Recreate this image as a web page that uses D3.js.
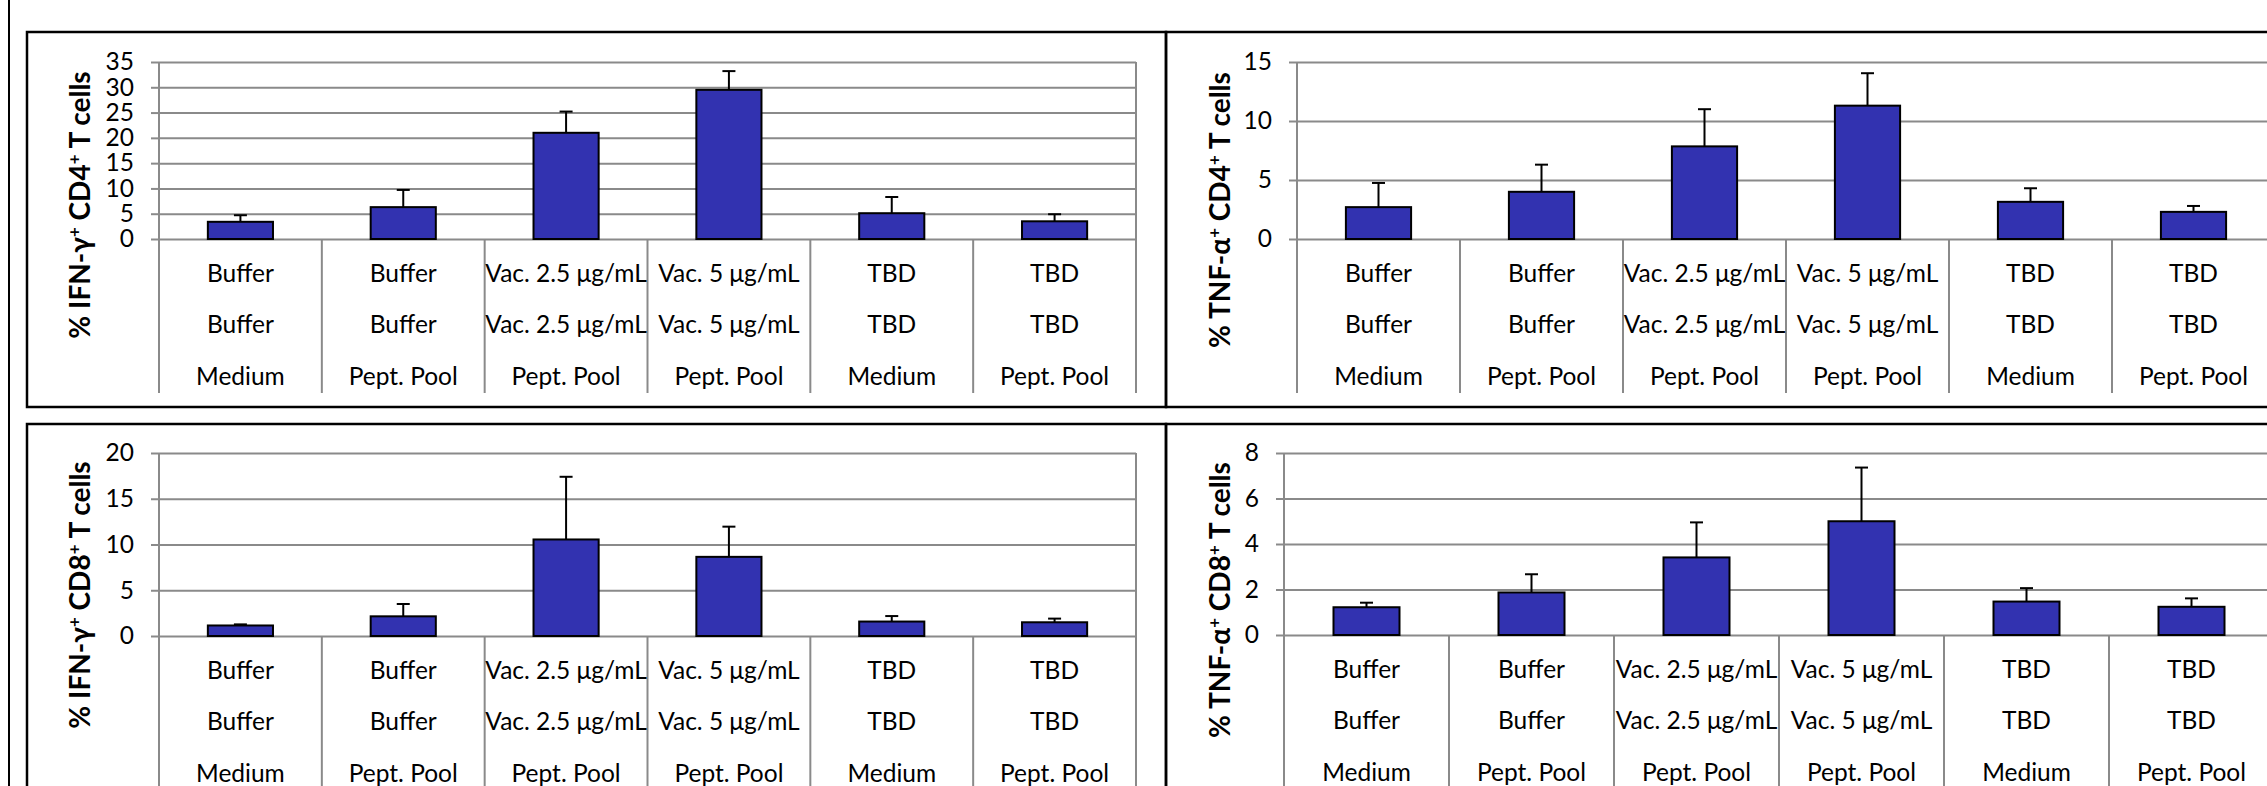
<!DOCTYPE html>
<html>
<head>
<meta charset="utf-8">
<script src="https://cdn.jsdelivr.net/npm/d3@7"></script>
<style>
body { margin: 0; background: #fff; }
text { font-family: Lato, "Open Sans", sans-serif; fill: #000; }
</style>
</head>
<body>
<script>
// category labels, three rows under each bar
var row1 = ["Buffer", "Buffer", "Vac. 2.5 μg/mL", "Vac. 5 μg/mL", "TBD", "TBD"];
var row2 = ["Buffer", "Buffer", "Vac. 2.5 μg/mL", "Vac. 5 μg/mL", "TBD", "TBD"];
var row3 = ["Medium", "Pept. Pool", "Pept. Pool", "Pept. Pool", "Medium", "Pept. Pool"];

// means and error (upper) per panel
var ifnCD4 = [3.4, 6.3, 21.0, 29.5, 5.1, 3.5];
var ifnCD4Err = [1.3, 3.4, 4.2, 3.7, 3.2, 1.4];
var tnfCD4 = [2.7, 4.0, 7.85, 11.3, 3.15, 2.3];
var tnfCD4Err = [2.05, 2.3, 3.15, 2.75, 1.15, 0.5];
var ifnCD8 = [1.15, 2.15, 10.55, 8.65, 1.58, 1.5];
var ifnCD8Err = [0.12, 1.35, 6.85, 3.3, 0.6, 0.4];
var tnfCD8 = [1.22, 1.87, 3.41, 5.0, 1.47, 1.24];
var tnfCD8Err = [0.2, 0.8, 1.54, 2.36, 0.59, 0.37];

// y axis tick values
var ticksIfnCD4 = [0, 5, 10, 15, 20, 25, 30, 35];
var ticksTnfCD4 = [0, 5, 10, 15];
var ticksIfnCD8 = [0, 5, 10, 15, 20];
var ticksTnfCD8 = [0, 2, 4, 6, 8];

var gridColor = "#8a8a8a";
var barColor = "#3232b0";

var svg = d3.select("body").append("svg")
  .attr("width", 2267).attr("height", 786);

// outer frame and panel boxes
svg.append("line").attr("x1", 9).attr("x2", 9).attr("y1", 0).attr("y2", 786)
  .attr("stroke", "#000").attr("stroke-width", 2);
[[27, 32, 1166, 407], [1166, 32, 2290, 407], [27, 424, 1166, 810], [1166, 424, 2290, 810]].forEach(function(b) {
  svg.append("rect").attr("x", b[0]).attr("y", b[1])
    .attr("width", b[2] - b[0]).attr("height", b[3] - b[1])
    .attr("fill", "none").attr("stroke", "#000").attr("stroke-width", 2.5);
});

function drawPanel(p) {
  var x = d3.scaleBand().domain(d3.range(p.values.length))
    .range([p.left, p.left + p.width]);
  var y = d3.scaleLinear().domain([0, d3.max(p.ticks)]).range([p.zero, p.top]);
  var g = svg.append("g");

  // gridlines
  g.append("g").attr("transform", "translate(" + p.left + ",0)")
    .call(d3.axisLeft(y).tickValues(p.ticks).tickSize(-p.width).tickFormat(""))
    .call(function(s) { s.select(".domain").remove(); })
    .selectAll("line").attr("stroke", gridColor).attr("stroke-width", 2);

  // tick marks and labels
  var ax = g.append("g").attr("transform", "translate(" + p.left + ",0)")
    .call(d3.axisLeft(y).tickValues(p.ticks).tickSize(8).tickPadding(17));
  ax.select(".domain").remove();
  ax.selectAll("line").attr("stroke", gridColor).attr("stroke-width", 2);
  ax.selectAll("text").attr("font-size", 24.5).attr("font-family", "Lato").attr("fill", "#000");

  // axis line, right border, category separators
  var lblBottom = p.zero + 154;
  g.append("line").attr("x1", p.left).attr("x2", p.left)
    .attr("y1", p.top).attr("y2", lblBottom)
    .attr("stroke", gridColor).attr("stroke-width", 2);
  g.append("line").attr("x1", p.left + p.width).attr("x2", p.left + p.width)
    .attr("y1", p.top).attr("y2", lblBottom)
    .attr("stroke", gridColor).attr("stroke-width", 2);
  g.selectAll(".sep").data(d3.range(1, p.values.length)).enter().append("line")
    .attr("x1", function(i) { return x(i); }).attr("x2", function(i) { return x(i); })
    .attr("y1", p.zero).attr("y2", lblBottom)
    .attr("stroke", gridColor).attr("stroke-width", 2);

  var bw = x.bandwidth() * 0.4;

  // bars
  g.selectAll(".bar").data(p.values).enter().append("rect")
    .attr("x", function(d, i) { return x(i) + (x.bandwidth() - bw) / 2; })
    .attr("y", function(d) { return y(d); })
    .attr("width", bw)
    .attr("height", function(d) { return y(0) - y(d); })
    .attr("fill", barColor).attr("stroke", "#000").attr("stroke-width", 2);

  // error bars (upper only)
  var cx = function(i) { return x(i) + x.bandwidth() / 2; };
  g.selectAll(".err").data(p.values).enter().append("line")
    .attr("x1", function(d, i) { return cx(i); }).attr("x2", function(d, i) { return cx(i); })
    .attr("y1", function(d) { return y(d); })
    .attr("y2", function(d, i) { return y(d + p.errors[i]); })
    .attr("stroke", "#000").attr("stroke-width", 2);
  g.selectAll(".cap").data(p.values).enter().append("line")
    .attr("x1", function(d, i) { return cx(i) - 6.5; }).attr("x2", function(d, i) { return cx(i) + 6.5; })
    .attr("y1", function(d, i) { return y(d + p.errors[i]); })
    .attr("y2", function(d, i) { return y(d + p.errors[i]); })
    .attr("stroke", "#000").attr("stroke-width", 2);

  // category labels
  [row1, row2, row3].forEach(function(row, r) {
    g.selectAll(".lbl" + r).data(row).enter().append("text")
      .attr("x", function(d, i) { return cx(i); })
      .attr("y", p.zero + 34 + r * 51.5)
      .attr("dy", "0.35em")
      .attr("text-anchor", "middle")
      .attr("font-size", 24.5)
      .text(function(d) { return d; });
  });

  // y title with superscripts
  var t = g.append("text")
    .attr("transform", "translate(" + p.titleX + "," + p.titleY + ") rotate(-90)")
    .attr("text-anchor", "middle").attr("dy", "0.35em")
    .attr("font-size", 28).attr("font-weight", "bold");
  p.title.forEach(function(part) {
    var ts = t.append("tspan").text(part[0]);
    if (part[1]) ts.attr("baseline-shift", "super").attr("font-size", 17);
  });
}

drawPanel({ values: ifnCD4, errors: ifnCD4Err, ticks: ticksIfnCD4,
  left: 159, width: 977, top: 62, zero: 239, titleX: 80, titleY: 205,
  title: [["% IFN-γ"], ["+", 1], [" CD4"], ["+", 1], [" T cells"]] });
drawPanel({ values: tnfCD4, errors: tnfCD4Err, ticks: ticksTnfCD4,
  left: 1297, width: 978, top: 62, zero: 239, titleX: 1220, titleY: 210,
  title: [["% TNF-α"], ["+", 1], [" CD4"], ["+", 1], [" T cells"]] });
drawPanel({ values: ifnCD8, errors: ifnCD8Err, ticks: ticksIfnCD8,
  left: 159, width: 977, top: 453, zero: 636, titleX: 80, titleY: 595,
  title: [["% IFN-γ"], ["+", 1], [" CD8"], ["+", 1], [" T cells"]] });
drawPanel({ values: tnfCD8, errors: tnfCD8Err, ticks: ticksTnfCD8,
  left: 1284, width: 990, top: 453, zero: 635, titleX: 1220, titleY: 600,
  title: [["% TNF-α"], ["+", 1], [" CD8"], ["+", 1], [" T cells"]] });
</script>
</body>
</html>
